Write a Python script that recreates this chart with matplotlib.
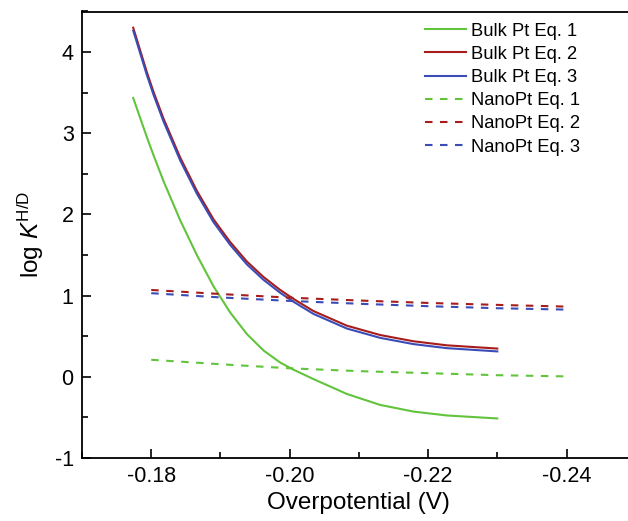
import matplotlib
matplotlib.use("Agg")
import matplotlib.pyplot as plt
from matplotlib.ticker import MultipleLocator

plt.rcParams['font.family'] = ['Liberation Sans', 'DejaVu Sans']
plt.rcParams['mathtext.fontset'] = 'custom'
plt.rcParams['mathtext.rm'] = 'Liberation Sans'
plt.rcParams['mathtext.it'] = 'Liberation Sans:italic'

# Bulk Pt curves
bulk_x = [-0.1774, -0.17938, -0.18033, -0.18178, -0.18419, -0.1866, -0.1890,
          -0.19141, -0.19382, -0.19622, -0.19863, -0.20055, -0.20344, -0.20826,
          -0.21307, -0.21788, -0.2227, -0.2300]
bulk_eq1 = [3.435, 2.95, 2.73, 2.41, 1.928, 1.499, 1.115,
            0.792, 0.527, 0.325, 0.176, 0.088, -0.028, -0.211,
            -0.346, -0.428, -0.476, -0.513]
bulk_eq2 = [4.30, 3.75, 3.51, 3.18, 2.70, 2.29, 1.94,
            1.66, 1.42, 1.23, 1.07, 0.96, 0.81, 0.63,
            0.515, 0.438, 0.388, 0.348]
bulk_eq3 = [4.265, 3.715, 3.475, 3.145, 2.665, 2.255, 1.905,
            1.625, 1.385, 1.195, 1.035, 0.925, 0.775, 0.595,
            0.48, 0.403, 0.353, 0.313]

# Nano Pt lines
nano_x = [-0.18, -0.19, -0.20, -0.21, -0.22, -0.23, -0.24]
nano_eq1 = [0.21, 0.155, 0.105, 0.07, 0.045, 0.02, 0.005]
nano_eq2 = [1.07, 1.02, 0.975, 0.94, 0.91, 0.886, 0.865]
nano_eq3 = [1.03, 0.978, 0.935, 0.90, 0.87, 0.845, 0.828]

labels = ['Bulk Pt Eq. 1', 'Bulk Pt Eq. 2', 'Bulk Pt Eq. 3',
          'NanoPt Eq. 1', 'NanoPt Eq. 2', 'NanoPt Eq. 3']
green, red, blue = '#62c43c', '#a81c1c', '#3a4cb8'

fig = plt.figure(figsize=(6.28, 5.21), dpi=100)
ax = fig.add_axes([82/628, 63/521, (635.75-82)/628, (458-11.5)/521])

dash = (3.6, 3.6)
ax.plot(bulk_x, bulk_eq1, color=green, lw=1.5, label=labels[0])
ax.plot(bulk_x, bulk_eq2, color=red, lw=1.5, label=labels[1])
ax.plot(bulk_x, bulk_eq3, color=blue, lw=1.5, label=labels[2])
ax.plot(nano_x, nano_eq1, color=green, lw=1.5, dashes=dash, label=labels[3])
ax.plot(nano_x, nano_eq2, color=red, lw=1.5, dashes=dash, label=labels[4])
ax.plot(nano_x, nano_eq3, color=blue, lw=1.5, dashes=dash, label=labels[5])

ax.set_xlim(-0.17, -0.25)
ax.set_ylim(-1, 4.5)
ax.set_xticks([-0.18, -0.20, -0.22, -0.24])
ax.set_xticklabels(['-0.18', '-0.20', '-0.22', '-0.24'])
ax.set_yticks([-1, 0, 1, 2, 3, 4])
ax.set_yticklabels(['-1', '0', '1', '2', '3', '4'])
ax.xaxis.set_minor_locator(MultipleLocator(0.01))
ax.yaxis.set_minor_locator(MultipleLocator(0.5))
ax.tick_params(which='both', direction='in', top=False, right=False, labelsize=15.5, width=1.2)
ax.tick_params(which='major', length=6.5, pad=6)
ax.tick_params(which='minor', length=4.2)
for s in ax.spines.values():
    s.set_linewidth(1.3)

ax.set_xlabel('Overpotential (V)', fontsize=17.5, labelpad=3)
ax.set_ylabel(r'log $\mathit{K}^{\mathrm{H/D}}$', fontsize=17.5, labelpad=6)

leg = ax.legend(loc='upper left', bbox_to_anchor=(0.6, 1.0), frameon=False,
                fontsize=13.2, handlelength=2.2, labelspacing=0.34,
                handletextpad=0.3, borderaxespad=0.2)

fig.savefig('out.png', dpi=100)
